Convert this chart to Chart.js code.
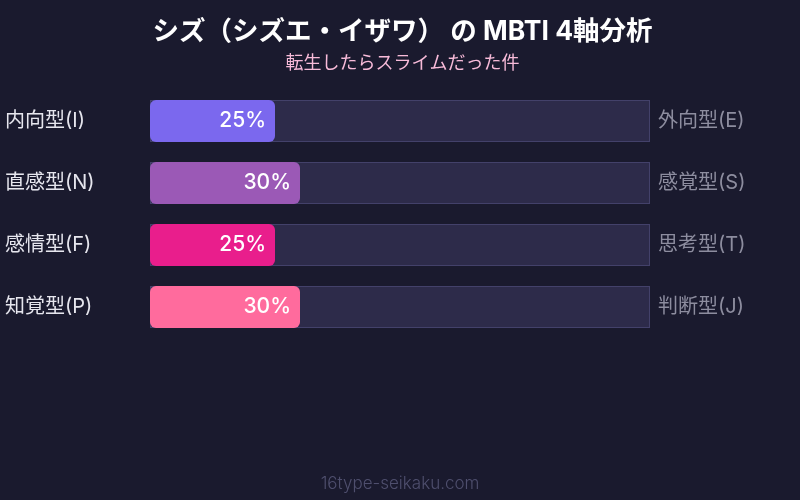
<!DOCTYPE html>
<html>
<head>
<meta charset="utf-8">
<script src="https://cdn.jsdelivr.net/npm/chart.js@4"></script>
<style>
  html, body { margin: 0; padding: 0; background: #1a1a2e; }
  #wrap { width: 800px; height: 500px; }
</style>
</head>
<body>
<div id="wrap"><canvas id="chart"></canvas></div>
<script>
const leftLabels = ['内向型(I)', '直感型(N)', '感情型(F)', '知覚型(P)'];
const rightLabels = ['外向型(E)', '感覚型(S)', '思考型(T)', '判断型(J)'];
const scores = [25, 30, 25, 30];
const trackValues = [100, 100, 100, 100];
const barColors = ['#7b68ee', '#9b59b6', '#e91e8c', '#ff6b9d'];

const FONT = "Inter, 'Noto Sans CJK JP', sans-serif";

// value text at the end of each filled bar, plus the site footer
const valueLabels = {
  id: 'valueLabels',
  afterDatasetsDraw(chart) {
    const ctx = chart.ctx;
    const meta = chart.getDatasetMeta(1);
    ctx.save();
    ctx.fillStyle = '#ffffff';
    ctx.font = '500 21px ' + FONT;
    ctx.textAlign = 'right';
    ctx.textBaseline = 'middle';
    meta.data.forEach((bar, i) => {
      ctx.fillText(scores[i] + '%', bar.x - 9, bar.y);
    });
    ctx.fillStyle = '#4f4f6e';
    ctx.font = '300 17px ' + FONT;
    ctx.textAlign = 'center';
    ctx.fillText('16type-seikaku.com', chart.width / 2, 484);
    ctx.restore();
  }
};

new Chart(document.getElementById('chart'), {
  type: 'bar',
  data: {
    labels: leftLabels,
    datasets: [
      {
        label: 'track',
        data: trackValues,
        backgroundColor: '#2d2b4a',
        borderColor: '#43416a',
        borderWidth: 1,
        borderSkipped: false,
        grouped: false,
        barPercentage: 1,
        categoryPercentage: 0.677,
        order: 2
      },
      {
        label: 'score',
        data: scores,
        backgroundColor: barColors,
        borderWidth: 0,
        borderRadius: 6,
        borderSkipped: false,
        grouped: false,
        barPercentage: 1,
        categoryPercentage: 0.677,
        order: 1
      }
    ]
  },
  options: {
    indexAxis: 'y',
    responsive: true,
    maintainAspectRatio: false,
    animation: false,
    layout: { padding: { top: 0, bottom: 162, left: 5, right: 0 } },
    plugins: {
      legend: { display: false },
      tooltip: { enabled: false },
      title: {
        display: true,
        text: 'シズ（シズエ・イザワ） の MBTI 4軸分析',
        color: '#ffffff',
        font: { family: FONT, size: 26.5, weight: 'bold', lineHeight: 1.2 },
        padding: { top: 16, bottom: 5 }
      },
      subtitle: {
        display: true,
        text: '転生したらスライムだった件',
        color: '#f8bbd9',
        font: { family: FONT, size: 18, lineHeight: 1.2 },
        padding: { top: 0, bottom: 15.6 }
      }
    },
    scales: {
      x: { display: false, min: 0, max: 100 },
      y: {
        position: 'left',
        grid: { display: false },
        border: { display: false },
        ticks: {
          color: '#e6e6ee',
          font: { family: FONT, size: 20 },
          crossAlign: 'far',
          padding: 0
        },
        afterFit(scale) { scale.width = 145; }
      },
      y2: {
        type: 'category',
        labels: rightLabels,
        position: 'right',
        offset: true,
        grid: { display: false },
        border: { display: false },
        ticks: {
          color: '#8d8d9f',
          font: { family: FONT, size: 20 },
          crossAlign: 'near',
          padding: 0
        },
        afterFit(scale) { scale.width = 150; }
      }
    }
  },
  plugins: [valueLabels]
});
</script>
</body>
</html>
